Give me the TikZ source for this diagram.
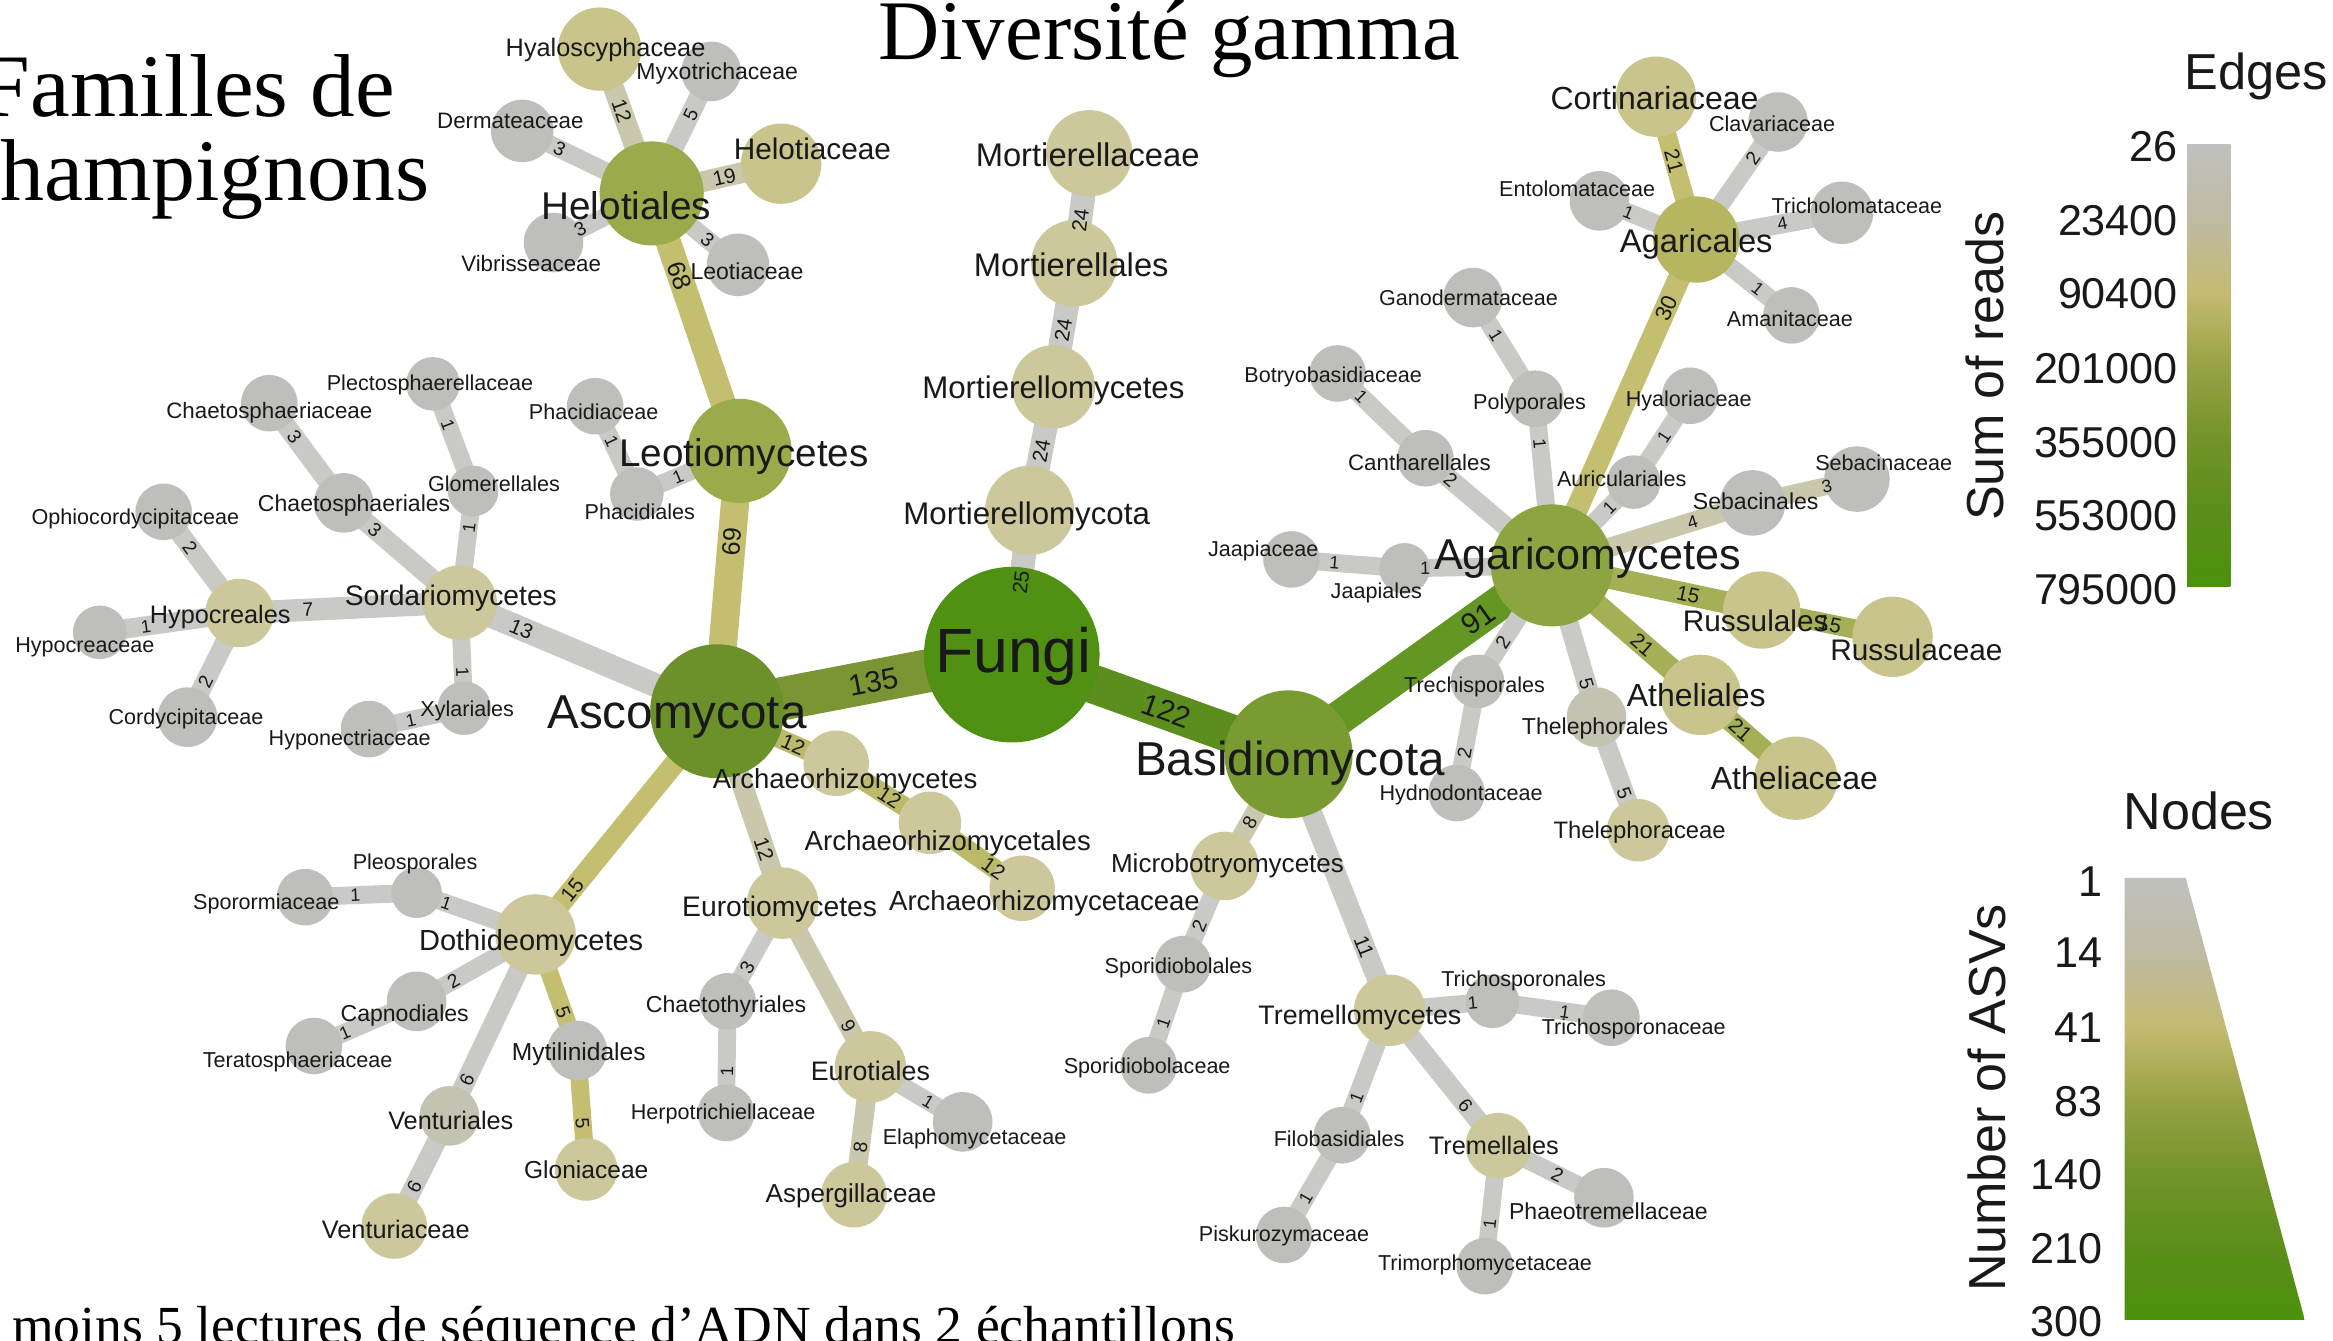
\documentclass[tikz,border=0pt]{standalone}
\usepackage{fontspec}
\setmainfont{Liberation Sans}
\newfontfamily\titlefont{Liberation Serif}
\pgfdeclarelayer{bgwhite}
\pgfdeclarelayer{edges}
\pgfsetlayers{bgwhite,edges,main}
\definecolor{txt}{RGB}{25,25,25}
\definecolor{cGrey}{RGB}{190,190,187}
\definecolor{cGreyK}{RGB}{196,195,178}
\definecolor{cEgrey}{RGB}{201,201,198}
\definecolor{cKhA}{RGB}{204,200,156}
\definecolor{cKhB}{RGB}{200,196,140}
\definecolor{cOlive}{RGB}{155,170,75}
\definecolor{cAgL}{RGB}{182,182,98}
\definecolor{cAgarico}{RGB}{140,165,65}
\definecolor{cBasid}{RGB}{122,155,50}
\definecolor{cAsco}{RGB}{108,145,42}
\definecolor{cFungi}{RGB}{80,145,20}
\definecolor{eA}{RGB}{122,150,52}
\definecolor{eB}{RGB}{92,142,30}
\definecolor{eC}{RGB}{100,150,35}
\definecolor{eY}{RGB}{196,190,112}
\definecolor{eG}{RGB}{165,175,85}
\definecolor{eGK}{RGB}{202,200,172}
\definecolor{eK}{RGB}{186,186,104}
\definecolor{g0}{RGB}{192,192,190}
\definecolor{g1}{RGB}{190,187,160}
\definecolor{g2}{RGB}{196,186,112}
\definecolor{g3}{RGB}{152,162,68}
\definecolor{g4}{RGB}{112,147,40}
\definecolor{g5}{RGB}{90,142,25}
\definecolor{g6}{RGB}{76,145,12}
\pgfdeclareverticalshading{legsh}{100bp}{color(0bp)=(g6); color(25bp)=(g6); color(33bp)=(g5); color(41bp)=(g4); color(50bp)=(g3); color(58bp)=(g2); color(66bp)=(g1); color(75bp)=(g0); color(100bp)=(g0)}
\newcommand\lnk[7]{%
  \begin{pgfonlayer}{edges}\draw[#3, line width={((#4<15) ? (#4+2) : (#4))*1pt}] (#1.center) -- (#2.center);\end{pgfonlayer}%
  \path (#1.center) -- node[el=#7, pos=#6] {#5} (#2.center);}
\begin{document}
\begin{tikzpicture}[x=1pt,y=-1pt,
  nd/.style={circle, inner sep=0pt, outer sep=0pt, minimum size=#1},
  tl/.style={inner sep=0pt, text height={0.72*#1 pt}, text depth=0pt, text=txt, font=\fontsize{#1}{#1}\selectfont},
  el/.style={sloped, inner sep=0pt, text height={0.72*#1 pt}, text depth=0pt, text=txt, font=\fontsize{#1}{#1}\selectfont},
  ttl/.style={inner sep=0pt, anchor=base west, text=black, font=\titlefont\fontsize{#1}{#1}\selectfont}]
\useasboundingbox (0,0) rectangle (1568,901);
\begin{pgfonlayer}{bgwhite}\fill[white] (0,0) rectangle (1568,901);\end{pgfonlayer}
% ---------- nodes
\node[nd=118, fill=cFungi] (fungi) at (680,440) {};
\node[nd=90, fill=cAsco] (asco) at (482,478) {};
\node[nd=86, fill=cBasid] (basidio) at (866,507) {};
\node[nd=82, fill=cAgarico] (agarico) at (1043,380) {};
\node[nd=60, fill=cKhA] (mmycota) at (692,343) {};
\node[nd=56, fill=cKhA] (mmycetes) at (708,260) {};
\node[nd=58, fill=cKhA] (males) at (722,177) {};
\node[nd=58, fill=cKhA] (maceae) at (732,103) {};
\node[nd=70, fill=cOlive] (leotio) at (497,303) {};
\node[nd=70, fill=cOlive] (helotiales) at (438,130) {};
\node[nd=56, fill=cKhB] (hyalo) at (403,33) {};
\node[nd=40, fill=cGrey] (myxo) at (478,48) {};
\node[nd=54, fill=cKhB] (helotiaceae) at (525,110) {};
\node[nd=42, fill=cGrey] (leotiaceae) at (496,178) {};
\node[nd=42, fill=cGrey] (dermat) at (351,88) {};
\node[nd=40, fill=cGrey] (vibris) at (372,163) {};
\node[nd=36, fill=cGrey] (phacidiales) at (428,332) {};
\node[nd=38, fill=cGrey] (phacidiaceae) at (400,273) {};
\node[nd=50, fill=cKhA] (sordario) at (309,405) {};
\node[nd=46, fill=cKhA] (hypocreales) at (161,412) {};
\node[nd=36, fill=cGrey] (hypocreaceae) at (67,425) {};
\node[nd=38, fill=cGrey] (ophio) at (110,344) {};
\node[nd=40, fill=cGrey] (cordy) at (126,482) {};
\node[nd=40, fill=cGrey] (chaetoales) at (231,338) {};
\node[nd=38, fill=cGrey] (chaetoaceae) at (181,271) {};
\node[nd=34, fill=cGrey] (glomer) at (318,330) {};
\node[nd=36, fill=cGrey] (plecto) at (291,258) {};
\node[nd=36, fill=cGrey] (xylar) at (312,476) {};
\node[nd=38, fill=cGrey] (hyponect) at (248,490) {};
\node[nd=44, fill=cKhA] (archm) at (562,513) {};
\node[nd=42, fill=cKhA] (archales) at (625,553) {};
\node[nd=44, fill=cKhA] (archaceae) at (687,597) {};
\node[nd=48, fill=cKhA] (eurotiom) at (526,607) {};
\node[nd=38, fill=cGrey] (chaetothy) at (489,673) {};
\node[nd=38, fill=cGrey] (herpo) at (488,748) {};
\node[nd=48, fill=cKhA] (eurotiales) at (585,717) {};
\node[nd=44, fill=cKhA] (asperg) at (574,803) {};
\node[nd=40, fill=cGrey] (elapho) at (647,754) {};
\node[nd=54, fill=cKhA] (dothideo) at (360,628) {};
\node[nd=34, fill=cGrey] (pleosp) at (280,600) {};
\node[nd=38, fill=cGrey] (sporor) at (205,603) {};
\node[nd=40, fill=cGrey] (capno) at (280,673) {};
\node[nd=38, fill=cGrey] (terato) at (211,703) {};
\node[nd=40, fill=cGreyK] (venturiales) at (302,750) {};
\node[nd=44, fill=cKhA] (venturiaceae) at (265,824) {};
\node[nd=40, fill=cGrey] (mytil) at (388,706) {};
\node[nd=42, fill=cKhA] (glonia) at (394,786) {};
\node[nd=58, fill=cAgL] (agaricales) at (1140,161) {};
\node[nd=54, fill=cKhB] (cortin) at (1113,65) {};
\node[nd=40, fill=cGrey] (clavar) at (1195,82) {};
\node[nd=42, fill=cGrey] (tricholo) at (1238,143) {};
\node[nd=38, fill=cGrey] (amanit) at (1204,212) {};
\node[nd=40, fill=cGrey] (entolo) at (1075,135) {};
\node[nd=40, fill=cGrey] (ganod) at (990,200) {};
\node[nd=38, fill=cGrey] (botryo) at (899,251) {};
\node[nd=38, fill=cGrey] (polyp) at (1032,268) {};
\node[nd=38, fill=cGrey] (hyalor) at (1136,266) {};
\node[nd=38, fill=cGrey] (canth) at (958,308) {};
\node[nd=36, fill=cGrey] (auric) at (1098,324) {};
\node[nd=44, fill=cGrey] (sebales) at (1178,338) {};
\node[nd=44, fill=cGrey] (sebaceae) at (1248,322) {};
\node[nd=52, fill=cKhB] (russales) at (1184,410) {};
\node[nd=54, fill=cKhB] (russaceae) at (1272,428) {};
\node[nd=54, fill=cKhB] (athales) at (1143,467) {};
\node[nd=56, fill=cKhB] (athaceae) at (1207,523) {};
\node[nd=40, fill=cGreyK] (theleales) at (1073,482) {};
\node[nd=42, fill=cKhA] (theleaceae) at (1101,558) {};
\node[nd=36, fill=cGrey] (trechi) at (993,458) {};
\node[nd=38, fill=cGrey] (hydno) at (979,533) {};
\node[nd=34, fill=cGrey] (jaapales) at (944,382) {};
\node[nd=38, fill=cGrey] (jaapaceae) at (868,376) {};
\node[nd=46, fill=cKhA] (microb) at (823,582) {};
\node[nd=38, fill=cGrey] (sporales) at (795,648) {};
\node[nd=38, fill=cGrey] (sporaceae) at (772,716) {};
\node[nd=48, fill=cKhA] (tremm) at (934,679) {};
\node[nd=36, fill=cGrey] (trichales) at (1003,673) {};
\node[nd=38, fill=cGrey] (trichaceae) at (1083,684) {};
\node[nd=38, fill=cGrey] (filob) at (902,763) {};
\node[nd=38, fill=cGrey] (pisk) at (863,830) {};
\node[nd=44, fill=cKhA] (tremales) at (1007,770) {};
\node[nd=40, fill=cGrey] (phaeo) at (1078,805) {};
\node[nd=38, fill=cGrey] (trimor) at (998,851) {};
% ---------- edges
\lnk{fungi}{asco}{eA}{29}{135}{0.47}{20}
\lnk{fungi}{basidio}{eB}{26}{122}{0.56}{20}
\lnk{fungi}{mmycota}{cEgrey}{14}{25}{0.5}{14}
\lnk{mmycota}{mmycetes}{cEgrey}{14}{24}{0.48}{14}
\lnk{mmycetes}{males}{cEgrey}{14}{24}{0.46}{14}
\lnk{males}{maceae}{cEgrey}{14}{24}{0.39}{14}
\lnk{basidio}{agarico}{eC}{23}{91}{0.72}{20}
\lnk{asco}{leotio}{eY}{19}{69}{0.65}{17}
\lnk{leotio}{helotiales}{eY}{17}{68}{0.68}{17}
\lnk{helotiales}{hyalo}{eGK}{12}{12}{0.57}{14}
\lnk{helotiales}{myxo}{cEgrey}{11}{5}{0.65}{13}
\lnk{helotiales}{helotiaceae}{eGK}{12}{19}{0.56}{14}
\lnk{helotiales}{leotiaceae}{cEgrey}{10}{3}{0.65}{13}
\lnk{helotiales}{dermat}{cEgrey}{10}{3}{0.71}{13}
\lnk{helotiales}{vibris}{cEgrey}{10}{3}{0.73}{13}
\lnk{leotio}{phacidiales}{cEgrey}{10}{1}{0.6}{12}
\lnk{phacidiales}{phacidiaceae}{cEgrey}{10}{1}{0.6}{12}
\lnk{asco}{sordario}{cEgrey}{14}{13}{0.76}{14}
\lnk{sordario}{hypocreales}{cEgrey}{13}{7}{0.69}{13}
\lnk{hypocreales}{hypocreaceae}{cEgrey}{11}{1}{0.67}{12}
\lnk{hypocreales}{ophio}{cEgrey}{11}{2}{0.65}{13}
\lnk{hypocreales}{cordy}{cEgrey}{11}{2}{0.66}{13}
\lnk{sordario}{chaetoales}{cEgrey}{11}{3}{0.73}{13}
\lnk{chaetoales}{chaetoaceae}{cEgrey}{11}{3}{0.66}{13}
\lnk{sordario}{glomer}{cEgrey}{10}{1}{0.67}{12}
\lnk{glomer}{plecto}{cEgrey}{10}{1}{0.62}{12}
\lnk{sordario}{xylar}{cEgrey}{10}{1}{0.66}{12}
\lnk{xylar}{hyponect}{cEgrey}{10}{1}{0.56}{12}
\lnk{asco}{archm}{eK}{11}{12}{0.64}{14}
\lnk{archm}{archales}{eK}{11}{12}{0.57}{14}
\lnk{archales}{archaceae}{eK}{11}{12}{0.69}{14}
\lnk{asco}{eurotiom}{eGK}{12}{12}{0.72}{14}
\lnk{eurotiom}{chaetothy}{cEgrey}{10}{3}{0.65}{13}
\lnk{chaetothy}{herpo}{cEgrey}{10}{1}{0.63}{12}
\lnk{eurotiom}{eurotiales}{eGK}{11}{9}{0.75}{13}
\lnk{eurotiales}{asperg}{eGK}{11}{8}{0.63}{13}
\lnk{eurotiales}{elapho}{cEgrey}{10}{1}{0.63}{12}
\lnk{asco}{dothideo}{eY}{12}{15}{0.8}{14}
\lnk{dothideo}{pleosp}{cEgrey}{10}{1}{0.75}{12}
\lnk{pleosp}{sporor}{cEgrey}{10}{1}{0.55}{12}
\lnk{dothideo}{capno}{cEgrey}{10}{2}{0.69}{13}
\lnk{capno}{terato}{cEgrey}{10}{1}{0.7}{12}
\lnk{dothideo}{venturiales}{cEgrey}{11}{6}{0.8}{13}
\lnk{venturiales}{venturiaceae}{cEgrey}{11}{6}{0.64}{13}
\lnk{dothideo}{mytil}{eY}{10}{5}{0.67}{13}
\lnk{mytil}{glonia}{eY}{10}{5}{0.61}{13}
\lnk{agarico}{agaricales}{eY}{13}{30}{0.79}{15}
\lnk{agaricales}{cortin}{eY}{11}{21}{0.55}{14}
\lnk{agaricales}{clavar}{cEgrey}{10}{2}{0.69}{13}
\lnk{agaricales}{tricholo}{cEgrey}{11}{4}{0.59}{12}
\lnk{agaricales}{amanit}{cEgrey}{10}{1}{0.65}{12}
\lnk{agaricales}{entolo}{cEgrey}{10}{1}{0.7}{12}
\lnk{agarico}{canth}{cEgrey}{11}{2}{0.8}{13}
\lnk{canth}{botryo}{cEgrey}{10}{1}{0.73}{12}
\lnk{agarico}{polyp}{cEgrey}{10}{1}{0.73}{12}
\lnk{polyp}{ganod}{cEgrey}{10}{1}{0.63}{12}
\lnk{agarico}{auric}{cEgrey}{10}{1}{0.7}{12}
\lnk{auric}{hyalor}{cEgrey}{10}{1}{0.53}{12}
\lnk{agarico}{sebales}{eGK}{11}{4}{0.7}{12}
\lnk{sebales}{sebaceae}{eGK}{10}{3}{0.71}{12}
\lnk{agarico}{russales}{eG}{13}{15}{0.65}{14}
\lnk{russales}{russaceae}{eG}{11}{15}{0.52}{14}
\lnk{agarico}{athales}{eG}{13}{21}{0.61}{14}
\lnk{athales}{athaceae}{eG}{12}{21}{0.42}{14}
\lnk{agarico}{theleales}{cEgrey}{11}{5}{0.78}{13}
\lnk{theleales}{theleaceae}{cEgrey}{11}{5}{0.67}{13}
\lnk{agarico}{trechi}{cEgrey}{10}{2}{0.66}{13}
\lnk{trechi}{hydno}{cEgrey}{10}{2}{0.64}{13}
\lnk{agarico}{jaapales}{cEgrey}{10}{1}{0.86}{12}
\lnk{jaapales}{jaapaceae}{cEgrey}{10}{1}{0.62}{12}
\lnk{basidio}{microb}{eGK}{11}{8}{0.61}{13}
\lnk{microb}{sporales}{cEgrey}{10}{2}{0.61}{13}
\lnk{sporales}{sporaceae}{cEgrey}{10}{1}{0.58}{12}
\lnk{basidio}{tremm}{cEgrey}{12}{11}{0.75}{14}
\lnk{tremm}{trichales}{cEgrey}{10}{1}{0.81}{12}
\lnk{trichales}{trichaceae}{cEgrey}{10}{1}{0.61}{12}
\lnk{tremm}{filob}{cEgrey}{10}{1}{0.7}{12}
\lnk{filob}{pisk}{cEgrey}{10}{1}{0.63}{12}
\lnk{tremm}{tremales}{cEgrey}{11}{6}{0.7}{13}
\lnk{tremales}{phaeo}{cEgrey}{10}{2}{0.56}{13}
\lnk{tremales}{trimor}{cEgrey}{10}{1}{0.65}{12}
% ---------- taxon labels
\node[tl=42] (l-fungi) at (681,437) {Fungi};
\node[tl=32] (l-asco) at (455,478) {Ascomycota};
\node[tl=32] (l-basidio) at (867,510) {Basidiomycota};
\node[tl=29] (l-agarico) at (1067,372) {Agaricomycetes};
\node[tl=26] (l-leotio) at (500,304) {Leotiomycetes};
\node[tl=26] (l-helotiales) at (421,138) {Helotiales};
\node[tl=21] (l-mmycota) at (690,345) {Mortierellomycota};
\node[tl=21] (l-mmycetes) at (708,260) {Mortierellomycetes};
\node[tl=22] (l-males) at (720,178) {Mortierellales};
\node[tl=22] (l-maceae) at (731,104) {Mortierellaceae};
\node[tl=17] (l-hyalo) at (407,32) {Hyaloscyphaceae};
\node[tl=15.5] (l-myxo) at (482,48) {Myxotrichaceae};
\node[tl=20] (l-helotiaceae) at (546,100) {Helotiaceae};
\node[tl=15.5] (l-leotiaceae) at (502,182) {Leotiaceae};
\node[tl=15] (l-dermat) at (343,81) {Dermateaceae};
\node[tl=15] (l-vibris) at (357,177) {Vibrisseaceae};
\node[tl=14.5] (l-phacidiaceae) at (399,277) {Phacidiaceae};
\node[tl=14.5] (l-phacidiales) at (430,344) {Phacidiales};
\node[tl=19] (l-sordario) at (303,400) {Sordariomycetes};
\node[tl=17] (l-hypocreales) at (148,413) {Hypocreales};
\node[tl=14.5] (l-hypocreaceae) at (57,433) {Hypocreaceae};
\node[tl=14.5] (l-ophio) at (91,347) {Ophiocordycipitaceae};
\node[tl=14.5] (l-cordy) at (125,482) {Cordycipitaceae};
\node[tl=15.5] (l-chaetoales) at (238,338) {Chaetosphaeriales};
\node[tl=15] (l-chaetoaceae) at (181,276) {Chaetosphaeriaceae};
\node[tl=14.5] (l-glomer) at (332,325) {Glomerellales};
\node[tl=14.5] (l-plecto) at (289,257) {Plectosphaerellaceae};
\node[tl=14.5] (l-xylar) at (314,476) {Xylariales};
\node[tl=14.5] (l-hyponect) at (235,496) {Hyponectriaceae};
\node[tl=18.5] (l-archm) at (568,523) {Archaeorhizomycetes};
\node[tl=18.5] (l-archales) at (637,565) {Archaeorhizomycetales};
\node[tl=18.5] (l-archaceae) at (702,605) {Archaeorhizomycetaceae};
\node[tl=19] (l-eurotiom) at (524,609) {Eurotiomycetes};
\node[tl=15.5] (l-chaetothy) at (488,675) {Chaetothyriales};
\node[tl=14.5] (l-herpo) at (486,747) {Herpotrichiellaceae};
\node[tl=18] (l-eurotiales) at (585,720) {Eurotiales};
\node[tl=17.5] (l-asperg) at (572,802) {Aspergillaceae};
\node[tl=14.5] (l-elapho) at (655,764) {Elaphomycetaceae};
\node[tl=19.5] (l-dothideo) at (357,632) {Dothideomycetes};
\node[tl=14.5] (l-pleosp) at (279,579) {Pleosporales};
\node[tl=14.5] (l-sporor) at (179,606) {Sporormiaceae};
\node[tl=15.5] (l-capno) at (272,681) {Capnodiales};
\node[tl=14.5] (l-terato) at (200,712) {Teratosphaeriaceae};
\node[tl=17] (l-venturiales) at (303,753) {Venturiales};
\node[tl=17] (l-venturiaceae) at (266,826) {Venturiaceae};
\node[tl=16.5] (l-mytil) at (389,707) {Mytilinidales};
\node[tl=16.5] (l-glonia) at (394,786) {Gloniaceae};
\node[tl=21.5] (l-cortin) at (1112,66) {Cortinariaceae};
\node[tl=14.5] (l-clavar) at (1191,83) {Clavariaceae};
\node[tl=14.5] (l-tricholo) at (1248,138) {Tricholomataceae};
\node[tl=14.5] (l-amanit) at (1203,214) {Amanitaceae};
\node[tl=14.5] (l-entolo) at (1060,127) {Entolomataceae};
\node[tl=22] (l-agaricales) at (1140,162) {Agaricales};
\node[tl=14.5] (l-ganod) at (987,200) {Ganodermataceae};
\node[tl=14.5] (l-botryo) at (896,252) {Botryobasidiaceae};
\node[tl=14.5] (l-polyp) at (1028,270) {Polyporales};
\node[tl=14.5] (l-hyalor) at (1135,268) {Hyaloriaceae};
\node[tl=15] (l-canth) at (954,311) {Cantharellales};
\node[tl=14.5] (l-auric) at (1090,322) {Auriculariales};
\node[tl=15.5] (l-sebales) at (1180,337) {Sebacinales};
\node[tl=14.5] (l-sebaceae) at (1266,311) {Sebacinaceae};
\node[tl=20] (l-russales) at (1180,417) {Russulales};
\node[tl=20] (l-russaceae) at (1288,437) {Russulaceae};
\node[tl=21.5] (l-athales) at (1140,467) {Atheliales};
\node[tl=21.5] (l-athaceae) at (1206,523) {Atheliaceae};
\node[tl=15.5] (l-theleales) at (1072,488) {Thelephorales};
\node[tl=16] (l-theleaceae) at (1102,558) {Thelephoraceae};
\node[tl=14.5] (l-trechi) at (991,460) {Trechisporales};
\node[tl=14.5] (l-hydno) at (982,533) {Hydnodontaceae};
\node[tl=14.5] (l-jaapales) at (925,397) {Jaapiales};
\node[tl=14.5] (l-jaapaceae) at (849,369) {Jaapiaceae};
\node[tl=17.5] (l-microb) at (825,580) {Microbotryomycetes};
\node[tl=14.5] (l-sporales) at (792,649) {Sporidiobolales};
\node[tl=14.5] (l-sporaceae) at (771,716) {Sporidiobolaceae};
\node[tl=18] (l-tremm) at (914,682) {Tremellomycetes};
\node[tl=14.5] (l-trichales) at (1024,658) {Trichosporonales};
\node[tl=14.5] (l-trichaceae) at (1098,690) {Trichosporonaceae};
\node[tl=14.5] (l-filob) at (900,765) {Filobasidiales};
\node[tl=14.5] (l-pisk) at (863,829) {Piskurozymaceae};
\node[tl=17] (l-tremales) at (1004,770) {Tremellales};
\node[tl=15.5] (l-phaeo) at (1081,814) {Phaeotremellaceae};
\node[tl=14.5] (l-trimor) at (998,849) {Trimorphomycetaceae};
% ---------- titles
\node[ttl=60] (t1) at (-13,78) {Familles de};
\node[ttl=59] (t2) at (0,135) {hampignons};
\node[ttl=57] (t3) at (590,40) {Diversité gamma};
\node[ttl=36] (t4) at (8,903) {moins 5 lectures de séquence d’ADN dans 2 échantillons};
% ---------- legend
\node[tl=34, anchor=west] (edgesT) at (1468,48) {Edges};
\shade[shading=legsh] (1470,97) rectangle (1499,394);
\node[tl=29, anchor=east] (e1) at (1464,98) {26};
\node[tl=29, anchor=east] (e2) at (1464,148) {23400};
\node[tl=29, anchor=east] (e3) at (1464,197) {90400};
\node[tl=29, anchor=east] (e4) at (1464,247) {201000};
\node[tl=29, anchor=east] (e5) at (1464,297) {355000};
\node[tl=29, anchor=east] (e6) at (1464,346) {553000};
\node[tl=29, anchor=east] (e7) at (1464,396) {795000};
\node[tl=35, rotate=90] (sumr) at (1334,246) {Sum of reads};
\node[tl=35, anchor=west] (nodesT) at (1427,545) {Nodes};
\shade[shading=legsh] (1428,590) -- (1469,590) -- (1549,887) -- (1428,887) -- cycle;
\node[tl=29, anchor=east] (n1) at (1413,592) {1};
\node[tl=29, anchor=east] (n2) at (1413,640) {14};
\node[tl=29, anchor=east] (n3) at (1413,690) {41};
\node[tl=29, anchor=east] (n4) at (1413,740) {83};
\node[tl=29, anchor=east] (n5) at (1413,789) {140};
\node[tl=29, anchor=east] (n6) at (1413,839) {210};
\node[tl=29, anchor=east] (n7) at (1413,888) {300};
\node[tl=35, rotate=90] (nasv) at (1335,738) {Number of ASVs};
\end{tikzpicture}
\end{document}
